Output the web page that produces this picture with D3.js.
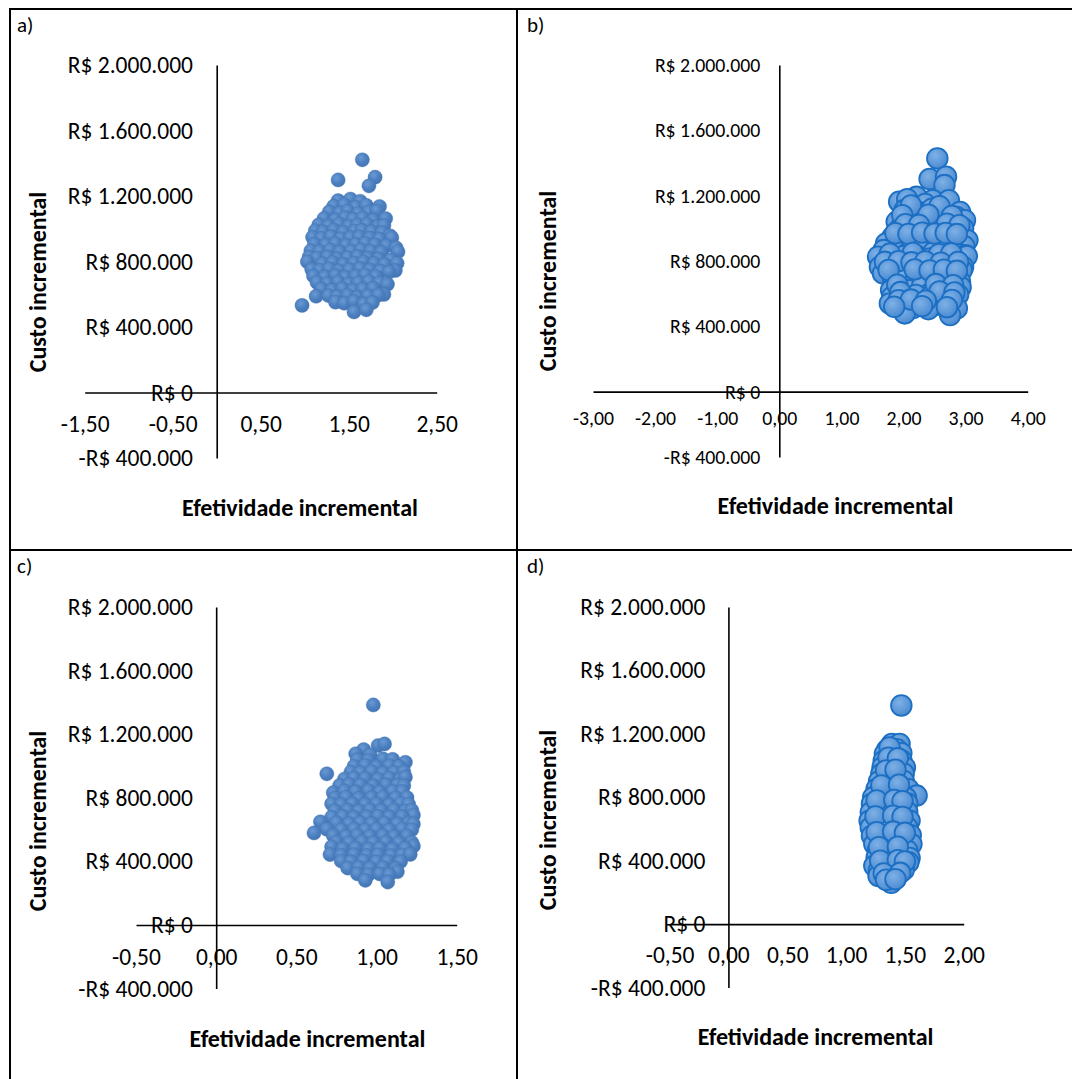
<!DOCTYPE html>
<html><head><meta charset="utf-8">
<script src="https://cdn.jsdelivr.net/npm/d3@7"></script>
<style>
body{margin:0;background:#fff}
svg{display:block}
text{font-family:Carlito,Lato,"Open Sans",sans-serif}
</style>
</head><body>
<svg id="chart" width="1072" height="1079"></svg>
<script>
// ---------- tick values / labels ----------
const costTicks = [-400000, 0, 400000, 800000, 1200000, 1600000, 2000000];
const effTicksA = [-1.5, -0.5, 0.5, 1.5, 2.5];
const effTicksB = [-3, -2, -1, 0, 1, 2, 3, 4];
const effTicksC = [-0.5, 0, 0.5, 1, 1.5];
const effTicksD = [-0.5, 0, 0.5, 1, 1.5, 2];
const panelLabels = ["a)", "b)", "c)", "d)"];
const yTitle = "Custo incremental";
const xTitle = "Efetividade incremental";

// ---------- panel a ----------
const effA = [
1.38,1.52,1.63,
1.33,1.45,1.58,1.70,1.85,
1.28,1.40,1.49,1.61,1.73,1.82,
1.22,1.35,1.46,1.55,1.66,1.78,1.92,
1.16,1.27,1.39,1.50,1.60,1.71,1.83,1.90,
1.12,1.21,1.33,1.44,1.57,1.65,1.76,1.88,1.97,
1.09,1.19,1.30,1.41,1.52,1.62,1.74,1.85,1.99,
1.11,1.24,1.35,1.47,1.58,1.69,1.80,1.93,2.04,
1.07,1.17,1.29,1.40,1.53,1.64,1.75,1.87,2.06,
1.05,1.14,1.26,1.37,1.49,1.60,1.72,1.84,1.98,
1.03,1.20,1.32,1.44,1.56,1.67,1.79,1.91,2.05,
1.08,1.17,1.28,1.39,1.51,1.63,1.74,1.86,2.03,
1.10,1.23,1.35,1.46,1.58,1.69,1.81,1.96,
1.14,1.26,1.38,1.50,1.61,1.73,1.85,1.94,
1.19,1.31,1.43,1.55,1.66,1.78,1.90,
1.13,1.27,1.37,1.49,1.60,1.72,1.84,
1.35,1.45,1.56,1.67,1.77,
1.56,1.70,
1.655,1.38,1.80,1.73,0.97
];
const costA = [
1172000,1181000,1168000,
1138000,1146000,1131000,1143000,1136000,
1104000,1096000,1108000,1093000,1101000,1110000,
1063000,1055000,1068000,1058000,1066000,1052000,1062000,
1024000,1017000,1029000,1015000,1022000,1027000,1013000,1020000,
988000,981000,992000,979000,986000,990000,983000,977000,957000,
948000,941000,952000,939000,946000,950000,943000,937000,945000,
906000,901000,909000,898000,904000,911000,902000,896000,883000,
866000,861000,869000,858000,864000,871000,862000,856000,860000,
827000,820000,829000,818000,824000,831000,822000,816000,810000,
799000,786000,794000,782000,790000,797000,788000,781000,789000,
752000,746000,755000,743000,750000,757000,748000,741000,745000,
712000,705000,715000,703000,710000,717000,708000,736000,
672000,665000,675000,663000,670000,677000,668000,661000,
632000,625000,635000,623000,630000,637000,599000,
588000,592000,585000,594000,582000,590000,596000,
552000,545000,556000,541000,549000,
492000,505000,
1421000,1298000,1315000,1262000,532000
];

// ---------- panel b ----------
const effB = [
2.545,
2.42,2.685,
2.66,
2.21,2.47,
1.93,2.06,2.35,2.73,
2.02,2.24,2.46,2.62,2.91,
1.89,2.12,2.33,2.52,2.67,2.85,2.99,
1.94,2.15,2.40,2.58,2.80,2.96,
1.82,2.00,2.20,2.38,2.60,2.78,2.91,3.03,
1.72,1.95,2.16,2.33,2.52,2.72,2.98,
1.68,1.88,2.07,2.27,2.48,2.66,2.88,3.00,
1.59,1.80,2.00,2.20,2.43,2.67,2.83,3.02,
1.62,1.835,2.05,2.28,2.50,2.72,2.96,
1.67,1.90,2.29,2.535,2.80,2.94,
1.835,2.02,2.20,2.40,2.62,2.91,
1.80,2.10,2.30,2.43,2.75,2.92,
1.82,2.00,2.20,2.45,2.70,2.88,
1.78,2.27,2.51,2.62,
2.02,2.15,2.40,2.86,
2.02,2.75,
2.12,2.58,
1.98,2.40,2.78,
2.03,2.25,2.70,2.90,
1.87,2.08,2.30,2.50,2.68,2.86,
1.78,2.15,2.57,2.77,
1.70,1.92,2.13,2.35,2.60,2.88,
1.76,2.18,2.42,2.65,2.86,
1.90,2.52,2.80,
1.95,2.58,2.82,
1.92,2.12,2.36,2.78,
1.85,2.30,2.70
];
const costB = [
1428000,
1302000,1316000,
1265000,
1193000,1173000,
1163000,1178000,1150000,1173000,
1112000,1101000,1120000,1095000,1101000,
1040000,1040000,1062000,1055000,1050000,1070000,1050000,
998000,1004000,992000,1008000,1000000,1001000,
946000,938000,931000,944000,951000,936000,948000,928000,
908000,884000,908000,886000,893000,881000,890000,
867000,860000,848000,866000,853000,836000,844000,836000,
826000,812000,829000,835000,816000,836000,824000,830000,
764000,764000,781000,774000,783000,779000,764000,
724000,742000,734000,714000,703000,745000,
683000,695000,686000,692000,711000,673000,
622000,622000,646000,602000,632000,640000,
581000,584000,592000,588000,581000,594000,
540000,540000,530000,551000,
499000,512000,505000,510000,
479000,469000,
1140000,1136000,
1080000,1084000,1076000,
1025000,1021000,1028000,1019000,
970000,966000,974000,968000,972000,965000,
845000,849000,842000,847000,
795000,799000,792000,797000,790000,794000,
745000,749000,742000,747000,740000,
655000,659000,652000,
610000,614000,607000,
560000,564000,557000,562000,
520000,524000,517000
];

// ---------- panel c ----------
const effC = [
1.01,1.05,
0.92,
0.87,0.96,
0.88,0.95,1.04,1.10,
1.18,
0.86,0.93,1.00,1.08,1.14,
0.84,0.90,0.97,1.04,1.11,1.17,
0.69,
0.80,0.86,0.93,1.01,1.08,1.15,1.18,
0.77,0.83,0.90,0.98,1.06,1.13,1.17,
0.73,0.80,0.87,0.95,1.02,1.10,1.16,
0.74,0.81,0.89,0.97,1.04,1.12,1.19,
0.72,0.78,0.85,0.93,1.00,1.08,1.15,1.20,
0.74,0.82,0.89,0.96,1.03,1.11,1.18,1.22,
1.23,
0.72,0.79,0.86,0.94,1.01,1.08,1.16,
0.65,0.75,0.83,0.90,0.97,1.05,1.13,1.20,1.23,
0.69,0.78,0.86,0.93,1.00,1.08,1.16,1.22,
0.61,
0.73,0.81,0.88,0.96,1.04,1.11,1.19,
0.75,0.83,0.91,0.98,1.06,1.14,1.22,
0.72,1.23,
0.79,0.87,0.95,1.02,1.10,1.18,
0.71,0.78,0.86,0.94,1.01,1.09,1.16,1.21,
0.78,0.84,0.92,1.00,1.07,1.15,
0.82,0.89,0.96,1.04,1.12,
1.13,
0.88,0.95,1.02,1.08,
0.93,
1.07,
0.98
];
const costC = [
1129000,1139000,
1103000,
1077000,1068000,
1040000,1036000,1045000,1042000,
1023000,
998000,1004000,995000,1002000,997000,
962000,958000,965000,955000,960000,963000,
951000,
918000,925000,921000,916000,923000,919000,930000,
878000,884000,880000,876000,882000,879000,876000,
832000,843000,838000,845000,836000,841000,839000,
798000,803000,796000,801000,805000,799000,802000,
762000,757000,763000,758000,761000,756000,764000,759000,
718000,722000,717000,723000,719000,724000,716000,721000,
692000,
678000,683000,677000,681000,684000,679000,682000,
649000,642000,637000,643000,638000,641000,636000,640000,635000,
602000,598000,603000,597000,601000,596000,604000,599000,
579000,
562000,557000,563000,558000,561000,556000,560000,
521000,517000,523000,518000,522000,516000,519000,
492000,497000,
479000,483000,477000,481000,476000,482000,
443000,438000,442000,437000,441000,436000,440000,444000,
402000,398000,403000,397000,401000,399000,
358000,362000,357000,361000,356000,
335000,
322000,318000,321000,317000,
281000,
270000,
1384000
];

// ---------- panel d ----------
const effD = [
1.47,
1.39,1.455,
1.35,1.43,
1.33,1.40,1.47,
1.32,1.39,1.47,
1.31,1.38,1.45,1.50,
1.30,1.37,1.43,1.49,
1.28,1.35,1.42,1.49,
1.26,1.32,1.40,1.47,1.53,
1.60,
1.23,1.30,1.38,1.455,1.51,
1.22,1.29,1.37,1.44,1.52,
1.21,1.28,1.36,1.44,1.52,
1.20,1.27,1.34,1.42,1.54,
1.21,1.29,1.36,1.44,1.52,
1.22,1.30,1.37,1.43,1.55,
1.24,1.32,1.40,1.48,1.556,
1.27,1.35,1.43,1.52,
1.26,1.33,1.40,1.48,1.54,
1.24,1.30,1.37,1.455,1.53,
1.28,1.34,1.42,1.49,
1.276,1.35,1.43,
1.384,
1.37,
1.36,1.44,
1.34,1.42,
1.30,1.45,
1.26,1.41,1.48,
1.25,1.40,1.48,
1.26,1.40,1.50,
1.28,1.44,
1.29,1.44,1.50,
1.32,1.46,
1.34,1.42
];
const costD = [
1379000,
1137000,1137000,
1100000,1104000,
1074000,1066000,1078000,
1030000,1026000,1034000,
990000,985000,994000,988000,
948000,952000,944000,950000,
900000,905000,897000,903000,
853000,856000,849000,858000,851000,
811000,
800000,779000,804000,779000,797000,
760000,764000,748000,757000,762000,
705000,709000,702000,705000,708000,
653000,658000,642000,650000,653000,
610000,606000,613000,608000,611000,
558000,562000,555000,558000,561000,
505000,509000,502000,507000,505000,
463000,467000,460000,465000,
420000,424000,400000,423000,418000,
368000,383000,358000,368000,390000,
340000,344000,337000,342000,
304000,300000,307000,
261000,
1115000,
1050000,1046000,
970000,974000,
875000,879000,
780000,784000,776000,
680000,684000,676000,
580000,584000,576000,
485000,489000,
400000,404000,396000,
320000,324000,
280000,284000
];

// ---------- formatting (pt-BR) ----------
const locale = d3.formatLocale({decimal: ",", thousands: ".", grouping: [3], currency: ["R$ ", ""], minus: "-"});
const fmtCost = locale.format("$,.0f");
const fmtEff = locale.format(",.2f");

const svg = d3.select("#chart");

// gradients for markers
const defs = svg.append("defs");
const gA = defs.append("radialGradient").attr("id", "gradA").attr("cx", "40%").attr("cy", "35%").attr("r", "65%");
gA.append("stop").attr("offset", "0%").attr("stop-color", "#6a9ad3");
gA.append("stop").attr("offset", "60%").attr("stop-color", "#4b7fc0");
gA.append("stop").attr("offset", "100%").attr("stop-color", "#4576b4");
const gB = defs.append("radialGradient").attr("id", "gradB").attr("cx", "40%").attr("cy", "35%").attr("r", "65%");
gB.append("stop").attr("offset", "0%").attr("stop-color", "#7eb0e6");
gB.append("stop").attr("offset", "70%").attr("stop-color", "#5b97d8");
gB.append("stop").attr("offset", "100%").attr("stop-color", "#4d8bd0");

// frame lines
const frame = svg.append("g").attr("stroke", "#000").attr("stroke-width", 2);
frame.append("line").attr("x1", 9).attr("x2", 1072).attr("y1", 9).attr("y2", 9);
frame.append("line").attr("x1", 10).attr("x2", 10).attr("y1", 8).attr("y2", 1079);
frame.append("line").attr("x1", 517).attr("x2", 517).attr("y1", 8).attr("y2", 1079);
frame.append("line").attr("x1", 10).attr("x2", 1072).attr("y1", 550).attr("y2", 550);

const panels = [
  {eff: effA, cost: costA, ticks: effTicksA, lbl: [17, 25], xr: [84.7, 436.7], yr: [458, 65], pad: 23.7, fs: 23.5, xlabY: 424, yT: [38, 282], xT: [300, 508], big: false},
  {eff: effB, cost: costB, ticks: effTicksB, lbl: [527, 25], xr: [593, 1027.7], yr: [457, 65], pad: 19, fs: 19.8, xlabY: 417.7, yT: [547.5, 281], xT: [835.5, 505.5], big: true},
  {eff: effC, cost: costC, ticks: effTicksC, lbl: [17, 566], xr: [136, 456.7], yr: [988.6, 607], pad: 23.3, fs: 23.5, xlabY: 957, yT: [38, 821], xT: [307.5, 1038.5], big: false},
  {eff: effD, cost: costD, ticks: effTicksD, lbl: [527, 566], xr: [669.6, 963.7], yr: [987.6, 607], pad: 23, fs: 23.5, xlabY: 955, yT: [547.5, 820], xT: [815.6, 1036.7], big: true}
];

panels.forEach((p, i) => {
  const g = svg.append("g");
  const x = d3.scaleLinear().domain(d3.extent(p.ticks)).range(p.xr);
  const y = d3.scaleLinear().domain(d3.extent(costTicks)).range(p.yr);
  const x0 = x(0), y0 = y(0);

  // panel letter
  g.append("text").attr("x", p.lbl[0]).attr("y", p.lbl[1]).attr("dy", "0.35em")
    .attr("font-size", 21).text(panelLabels[i]);

  // y axis (crossing at x = 0)
  const ya = g.append("g").attr("transform", `translate(${x0},0)`)
    .call(d3.axisLeft(y).tickValues(costTicks).tickFormat(fmtCost).tickSize(0).tickPadding(p.pad));
  ya.attr("font-size", p.fs).attr("font-family", null);
  ya.select(".domain").attr("stroke", "#000").attr("stroke-width", 1.6);
  ya.selectAll("text").attr("fill", "#000");

  // x axis (crossing at y = 0)
  const xa = g.append("g").attr("transform", `translate(0,${y0})`)
    .call(d3.axisBottom(x).tickValues(p.ticks).tickFormat(fmtEff).tickSize(0));
  xa.attr("font-size", p.fs).attr("font-family", null);
  xa.select(".domain").attr("stroke", "#000").attr("stroke-width", 1.6);
  xa.selectAll("text").attr("fill", "#000").attr("y", p.xlabY - y0).attr("dy", "0.35em");

  // axis titles
  g.append("text").attr("transform", `translate(${p.yT[0]},${p.yT[1]}) rotate(-90)`)
    .attr("text-anchor", "middle").attr("dy", "0.35em").attr("font-weight", "bold")
    .attr("font-size", 24).text(yTitle);
  g.append("text").attr("x", p.xT[0]).attr("y", p.xT[1]).attr("text-anchor", "middle")
    .attr("dy", "0.35em").attr("font-weight", "bold").attr("font-size", 24).text(xTitle);

  // points
  const n = Math.min(p.eff.length, p.cost.length);
  const pts = d3.range(n).map(k => [p.eff[k], p.cost[k]]);
  g.append("g").selectAll("circle").data(pts).join("circle")
    .attr("cx", d => x(d[0])).attr("cy", d => y(d[1]))
    .attr("r", p.big ? 10.3 : 7.1)
    .attr("fill", p.big ? "url(#gradB)" : "url(#gradA)")
    .attr("stroke", p.big ? "#1c6fc3" : "#4474b0")
    .attr("stroke-width", p.big ? 1.8 : 0.4);
});
</script>
</body></html>
